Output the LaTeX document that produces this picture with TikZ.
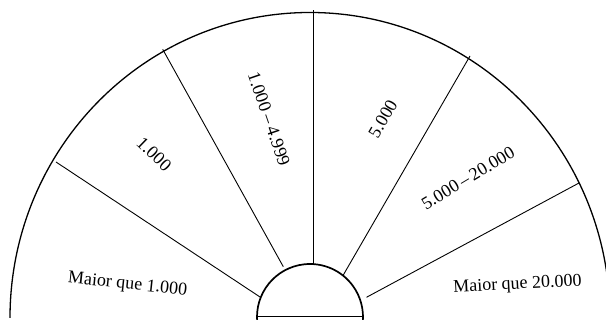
\documentclass[tikz,border=0pt]{standalone}
\usepackage{fontspec}
\setmainfont{Liberation Serif}
\begin{document}
\begin{tikzpicture}[x=1pt,y=1pt,
  outerarc/.style={line width=1.3pt},
  innerarc/.style={line width=1.7pt},
  spoke/.style={line width=0.9pt},
  lbl/.style={font=\fontsize{18}{20}\selectfont, inner sep=0pt}]
\useasboundingbox (0,0) rectangle (606,320);
\begin{scope}
\clip (0,0) rectangle (606,320);
% outer arc
\draw[outerarc] (10,2) arc[start angle=180, end angle=0, x radius=300, y radius=305.5];
% inner semicircle
\draw[innerarc] (310,3) ++(186:53) arc[start angle=186, end angle=-6, radius=53];
\coordinate (bl) at (257,3.7);
\coordinate (br) at (363,3.7);
\draw[line width=1.5pt] (bl) -- (br);
\end{scope}
% spoke end points
\coordinate (o1) at (56,158);    \coordinate (i1) at (260,23);
\coordinate (o2) at (162.7,270.7); \coordinate (i2) at (283.3,53.3);
\coordinate (o3) at (313,309.5); \coordinate (i3) at (313,55);
\coordinate (o4) at (470,264);   \coordinate (i4) at (343.3,45);
\coordinate (o5) at (579,137);   \coordinate (i5) at (366.5,22.7);
\draw[spoke] (o1) -- (i1);
\draw[spoke] (o2) -- (i2);
\draw[spoke] (o3) -- (i3);
\draw[spoke] (o4) -- (i4);
\draw[spoke] (o5) -- (i5);
% labels
\node[lbl, rotate=-6] (l1) at (127.5,35) {Maior que 1.000};
\node[lbl, rotate=-44] (l2) at (154,166) {1.000};
\node[lbl, rotate=-71] (l3) at (269,201) {1.000\kern4pt–\kern4pt4.999};
\node[lbl, rotate=60] (l4) at (383,201) {5.000};
\node[lbl, rotate=31] (l5) at (468,142) {5.000\kern3pt–\kern3pt20.000};
\node[lbl, rotate=3] (l6) at (517.5,35) {Maior que 20.000};
\end{tikzpicture}
\end{document}
